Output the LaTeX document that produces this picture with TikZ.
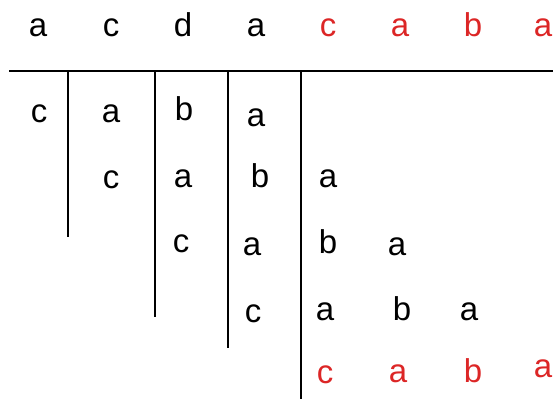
\documentclass[tikz,border=0pt]{standalone}
\usepackage{fontspec}
\setmainfont{Liberation Sans}
\usepackage{xcolor}
\usepackage{tikz}
\definecolor{hitred}{RGB}{220,38,38}

\begin{document}
\begin{tikzpicture}[
    x=1pt, y=-1pt,
    letter/.style={anchor=base, inner sep=0pt, font=\fontsize{33}{39}\selectfont},
    hit/.style={letter, text=hitred},
    rule/.style={line width=2pt, black}
]
\useasboundingbox (0,0) rectangle (553,399);
% text row
\node[letter] (t1) at (38,36.5) {a};
\node[letter] (t2) at (111,36.5) {c};
\node[letter] (t3) at (183,36.5) {d};
\node[letter] (t4) at (256,36.5) {a};
\node[hit] (t5) at (328,36.5) {c};
\node[hit] (t6) at (400,36.5) {a};
\node[hit] (t7) at (473,36.5) {b};
\node[hit] (t8) at (543,36.5) {a};
% pattern shifts
\node[letter] (p11) at (39,122) {c};
\node[letter] (p12) at (111,122) {a};
\node[letter] (p13) at (184,120.5) {b};
\node[letter] (p14) at (256,126.5) {a};
\node[letter] (p21) at (111,188.5) {c};
\node[letter] (p22) at (183,187) {a};
\node[letter] (p23) at (260,187) {b};
\node[letter] (p24) at (328,187) {a};
\node[letter] (p31) at (181,252) {c};
\node[letter] (p32) at (252,255) {a};
\node[letter] (p33) at (328,253.5) {b};
\node[letter] (p34) at (397,255) {a};
\node[letter] (p41) at (253,322) {c};
\node[letter] (p42) at (325,320) {a};
\node[letter] (p43) at (402,320) {b};
\node[letter] (p44) at (469,320) {a};
\node[hit] (p51) at (325,383.5) {c};
\node[hit] (p52) at (398,382) {a};
\node[hit] (p53) at (473,382) {b};
\node[hit] (p54) at (543,377) {a};
% rules
\coordinate (hl) at (9,71);
\coordinate (hr) at (553,71);
\draw[rule] (hl) -- (hr);
\coordinate (v1) at (68,71);
\coordinate (v2) at (155,71);
\coordinate (v3) at (227.5,71);
\coordinate (v4) at (301,71);
\draw[rule] (v1) -- ++(0,166);
\draw[rule] (v2) -- ++(0,246);
\draw[rule] (v3) -- ++(0,277);
\draw[rule] (v4) -- ++(0,328);
\end{tikzpicture}
\end{document}
